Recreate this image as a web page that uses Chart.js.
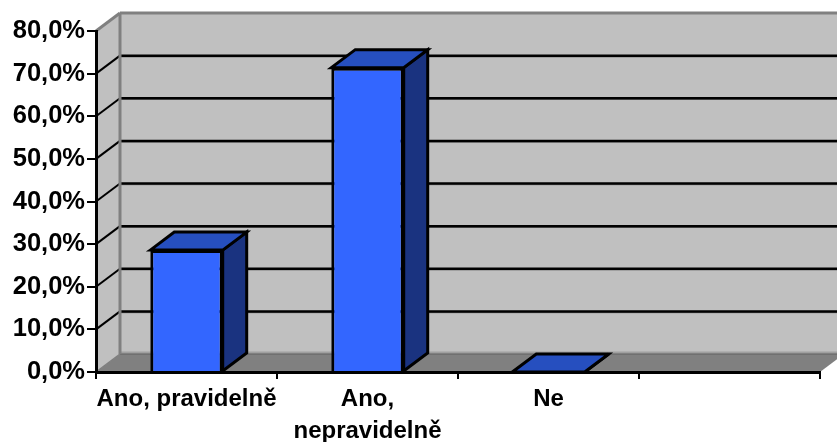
<!DOCTYPE html>
<html>
<head>
<meta charset="utf-8">
<style>
  html, body { margin: 0; padding: 0; background: #fff; }
  canvas { display: block; }
</style>
<script src="https://cdn.jsdelivr.net/npm/chart.js@4"></script>
</head>
<body>
<canvas id="survey-chart" width="837" height="442"></canvas>
<script>
// Chart data
const categories = ['Ano, pravidelně', ['Ano,', 'nepravidelně'], 'Ne', ''];
const seriesValues = [28.6, 71.4, 0];
const yTicks = ['0,0%', '10,0%', '20,0%', '30,0%', '40,0%', '50,0%', '60,0%', '70,0%', '80,0%'];

// Excel style depth of the 3D box
const depthX = 24;
const depthY = 18;

const polygon = (ctx, pts, fill, stroke, width) => {
    ctx.beginPath();
    pts.forEach((p, i) => i ? ctx.lineTo(p[0], p[1]) : ctx.moveTo(p[0], p[1]));
    ctx.closePath();
    ctx.fillStyle = fill;
    ctx.fill();
    if (stroke) {
        ctx.strokeStyle = stroke;
        ctx.lineWidth = width;
        ctx.lineJoin = 'miter';
        ctx.stroke();
    }
};

const line = (ctx, x1, y1, x2, y2, color, width) => {
    ctx.beginPath();
    ctx.moveTo(x1, y1);
    ctx.lineTo(x2, y2);
    ctx.strokeStyle = color;
    ctx.lineWidth = width;
    ctx.stroke();
};

// Walls, floor and grid behind the bars
const box3d = {
    id: 'box3d',
    beforeDraw(chart) {
        const { ctx, chartArea: a, scales: { y } } = chart;
        const l = a.left, r = a.right, t = a.top, b = a.bottom;
        ctx.save();
        polygon(ctx, [[l + depthX, t - depthY], [r + depthX, t - depthY], [r + depthX, b - depthY], [l + depthX, b - depthY]], '#c0c0c0');
        polygon(ctx, [[l, t], [l + depthX, t - depthY], [l + depthX, b - depthY], [l, b]], '#c0c0c0');
        line(ctx, l + depthX, b - depthY - 1, r + depthX, b - depthY - 1, '#a0a0a0', 3);
        polygon(ctx, [[l, b], [l + depthX, b - depthY], [r + depthX, b - depthY], [r, b]], '#808080');
        line(ctx, l + depthX, b - depthY, r + depthX, b - depthY, '#606060', 1);
        y.ticks.forEach((tick) => {
            const py = y.getPixelForValue(tick.value);
            if (tick.value > 0 && tick.value < 80) {
                line(ctx, l + depthX, py - depthY + 1, r + depthX, py - depthY + 1, '#808080', 1.5);
                line(ctx, l, py, l + depthX, py - depthY, '#000', 2);
                line(ctx, l + depthX, py - depthY, r + depthX, py - depthY, '#000', 2.5);
            }
        });
        line(ctx, l, t, l + depthX, t - depthY, '#808080', 3);
        line(ctx, l + depthX, t - depthY, r + depthX, t - depthY, '#808080', 3);
        line(ctx, l + depthX, t - depthY, l + depthX, b - depthY, '#808080', 3);
        line(ctx, l, b, l + depthX, b - depthY, '#808080', 1.5);
        ctx.restore();
    },
    beforeDatasetsDraw(chart) {
        const { ctx } = chart;
        ctx.save();
        chart.getDatasetMeta(0).data.forEach((bar) => {
            const left = bar.x - bar.width / 2;
            const right = bar.x + bar.width / 2;
            polygon(ctx, [[right, bar.y], [right + depthX, bar.y - depthY], [right + depthX, bar.base - depthY], [right, bar.base]], '#1a3380', '#000', 3);
            polygon(ctx, [[left, bar.y], [left + depthX, bar.y - depthY], [right + depthX, bar.y - depthY], [right, bar.y]], '#264fbf', '#000', 3);
        });
        ctx.restore();
    }
};

const fontFamily = '"Liberation Sans", Arial, sans-serif';

new Chart(document.getElementById('survey-chart').getContext('2d'), {
    type: 'bar',
    data: {
        labels: categories,
        datasets: [{
            data: seriesValues,
            backgroundColor: '#3366ff',
            borderColor: '#000',
            borderWidth: 3,
            barPercentage: 0.4,
            categoryPercentage: 1
        }]
    },
    plugins: [box3d],
    options: {
        responsive: false,
        animation: false,
        layout: { padding: { top: 31, right: 17, bottom: 0, left: 0 } },
        plugins: { legend: { display: false }, title: { display: false }, tooltip: { enabled: false } },
        scales: {
            x: {
                afterFit: (scale) => { scale.height = 70; },
                border: { color: '#000', width: 3 },
                grid: { drawOnChartArea: false, color: '#000', lineWidth: 2, tickLength: 7, offset: true },
                ticks: {
                    color: '#000',
                    font: { family: fontFamily, size: 24, weight: 'bold', lineHeight: 1.35 },
                    maxRotation: 0,
                    autoSkip: false,
                    padding: 4
                }
            },
            y: {
                min: 0,
                max: 80,
                afterFit: (scale) => { scale.width = 96; },
                border: { color: '#000', width: 3 },
                grid: { drawOnChartArea: false, color: '#000', lineWidth: 2, tickLength: 9 },
                ticks: {
                    stepSize: 10,
                    color: '#000',
                    font: { family: fontFamily, size: 25.5, weight: 'bold' },
                    padding: 2,
                    callback: (value, i) => yTicks[i]
                }
            }
        }
    }
});
</script>
</body>
</html>
